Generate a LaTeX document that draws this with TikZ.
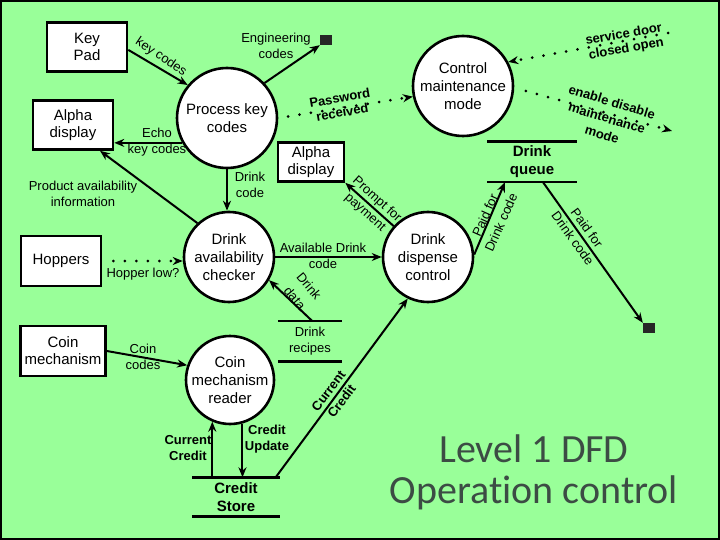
\documentclass[tikz,border=0pt]{standalone}
\usepackage{fontspec}
\setmainfont{Liberation Sans}
\newfontfamily\titlefont[Ligatures=NoCommon]{Carlito}
\usetikzlibrary{arrows.meta}
\definecolor{bg}{RGB}{153,255,153}
\definecolor{titlecol}{RGB}{60,76,68}
\begin{document}
\begin{tikzpicture}[x=1pt,y=-1pt,
 ent/.style={draw, line width=2.6pt, fill=white, align=center, inner sep=0pt, font=\fontsize{15}{17}\selectfont},
 proc/.style={circle, draw, line width=2.6pt, fill=white, align=center, inner sep=-8pt, font=\fontsize{15}{18}\selectfont},
 store/.style={align=center, inner sep=0pt, font=\fontsize{15}{18}\selectfont\bfseries},
 storeline/.style={line width=2.6pt},
 flow/.style={line width=2pt, -{Stealth[length=10pt,width=8pt]}},
 dotflow/.style={line width=3pt, line cap=round, dash pattern=on 0pt off 11.5pt, -{Stealth[length=10pt,width=8pt]}},
 lbl/.style={align=center, inner sep=0pt, font=\fontsize{13}{15.5}\selectfont},
 rlbl/.style={align=center, inner sep=0pt, font=\fontsize{13}{17.5}\selectfont},
 blbl/.style={align=center, inner sep=0pt, font=\fontsize{13}{14.5}\selectfont\bfseries},
 term/.style={fill=black!85, minimum width=12pt, minimum height=10pt, inner sep=0pt}
]
\useasboundingbox (0,0) rectangle (720,540);
\fill[bg] (0,0) rectangle (720,540);
\draw[line width=2.5pt] (1,1) rectangle (719,539);

% external entities
\node[ent, minimum width=80pt, minimum height=49pt] (keypad) at (87,47) {Key\\Pad};
\node[ent, minimum width=80pt, minimum height=49pt] (alphaL) at (73,125) {Alpha\\display};
\node[ent, minimum width=80pt, minimum height=50pt] (hoppers) at (61,261) {Hoppers};
\node[ent, minimum width=85pt, minimum height=50pt] (coinm) at (63,351) {Coin\\mechanism};
\node[ent, minimum width=66pt, minimum height=39pt] (alphaM) at (311,162) {Alpha\\display};

% processes
\node[proc, minimum size=100pt] (pkc) at (227,118) {Process key\\codes};
\node[proc, minimum size=100pt] (cmm) at (463,86) {Control\\maintenance\\mode};
\node[proc, minimum size=90pt] (dac) at (229,257) {Drink\\availability\\checker};
\node[proc, minimum size=90pt] (ddc) at (428,257) {Drink\\dispense\\control};
\node[proc, minimum size=88pt] (cmr) at (230,380) {Coin\\mechanism\\reader};

% data stores
\node[store, minimum width=89pt, minimum height=40pt] (dq) at (532,162) {Drink\\queue};
\draw[storeline] (dq.north west) -- (dq.north east) (dq.south west) -- (dq.south east);
\node[store, font=\fontsize{13}{16}\selectfont, minimum width=64pt, minimum height=40pt] (drs) at (310,341) {Drink\\recipes};
\draw[storeline] (drs.north west) -- (drs.north east) (drs.south west) -- (drs.south east);
\node[store, minimum width=87pt, minimum height=39pt] (cs) at (236,497) {Credit\\Store};
\draw[storeline] (cs.north west) -- (cs.north east) (cs.south west) -- (cs.south east);

% terminators
\node[term] (eng) at (326,40) {};
\node[term] (sink) at (649,328) {};
\coordinate (sdstart) at (668,33);
\coordinate (enend) at (672,131);

% flows
\draw[flow] (keypad.-4) -- (pkc.140);
\draw[flow] (pkc.43) -- (eng.south west);
\draw[flow] (pkc.209) -- (pkc.209 -| alphaL.east);
\draw[flow] (pkc.south) -- (pkc.south |- dac.north);
\draw[flow] (dac.133) -- ([xshift=27pt]alphaL.south);
\draw[dotflow, shorten <=11pt] (hoppers.east) -- (hoppers.east -| dac.west);
\draw[dotflow, shorten <=10pt] (pkc.east) -- (cmm.192);
\draw[dotflow] (sdstart) -- (cmm.28);
\draw[dotflow, shorten <=12pt] (cmm.-2) -- (enend);
\draw[flow] (dac.east) -- (ddc.west);
\draw[flow] ([xshift=2pt]drs.north) -- (dac.-30);
\draw[flow] (ddc.138) -- (alphaM.south east);
\draw[flow] (ddc.3) -- ([xshift=-27pt]dq.south);
\draw[flow] ([xshift=11pt]dq.south) -- (sink.north west);
\draw[flow] (coinm.east) -- (cmr.161);
\draw[flow] (cmr.247 |- cs.north) -- (cmr.247);
\draw[flow] (cmr.286) -- (cmr.286 |- cs.north);
\draw[flow] ([xshift=-4pt]cs.north east) -- (ddc.244);

% labels
\node[lbl, rotate=-34] (lkc) at (161,57) {key codes};
\node[lbl] (leng) at (276,46) {Engineering\\codes};
\node[lbl] (lecho) at (157,142) {Echo\\key codes};
\node[lbl] (ldc) at (250,185) {Drink\\code};
\node[lbl] (lprod) at (83,194) {Product availability\\information};
\node[lbl] (lhl) at (143,274) {Hopper low?};
\node[blbl, rotate=10] (lpw) at (341,105) {Password\\received};
\node[blbl, rotate=10] (lsd) at (625,42) {service door\\closed open};
\node[blbl, font=\fontsize{13}{17}\selectfont\bfseries, rotate=-17] (len) at (607,118) {enable disable\\maintenance\\mode};
\node[lbl, font=\fontsize{13}{16}\selectfont] (lav) at (323,256) {Available Drink\\code};
\node[rlbl, font=\fontsize{13}{18.5}\selectfont, rotate=-50] (ldd) at (302,292) {Drink\\data};
\node[rlbl, rotate=-42] (lpp) at (371,206) {Prompt for\\payment};
\node[rlbl, rotate=66] (lpf1) at (493,219) {Paid for\\Drink code};
\node[rlbl, rotate=-54] (lpf2) at (580,233) {Paid for\\Drink code};
\node[lbl] (lcc) at (143,357) {Coin\\codes};
\node[blbl, font=\fontsize{13}{16}\selectfont\bfseries] (lcur) at (188,448) {Current\\Credit};
\node[blbl, font=\fontsize{13}{16}\selectfont\bfseries] (lupd) at (267,439) {Credit\\Update};
\node[blbl, font=\fontsize{13}{16.5}\selectfont\bfseries, rotate=53] (lccd) at (335,396) {Current\\Credit};

\node[align=center, inner sep=0pt, text=titlecol, font=\titlefont\fontsize{40}{41}\selectfont] (title) at (534,472) {Level 1 DFD\\Operation control};
\end{tikzpicture}
\end{document}
